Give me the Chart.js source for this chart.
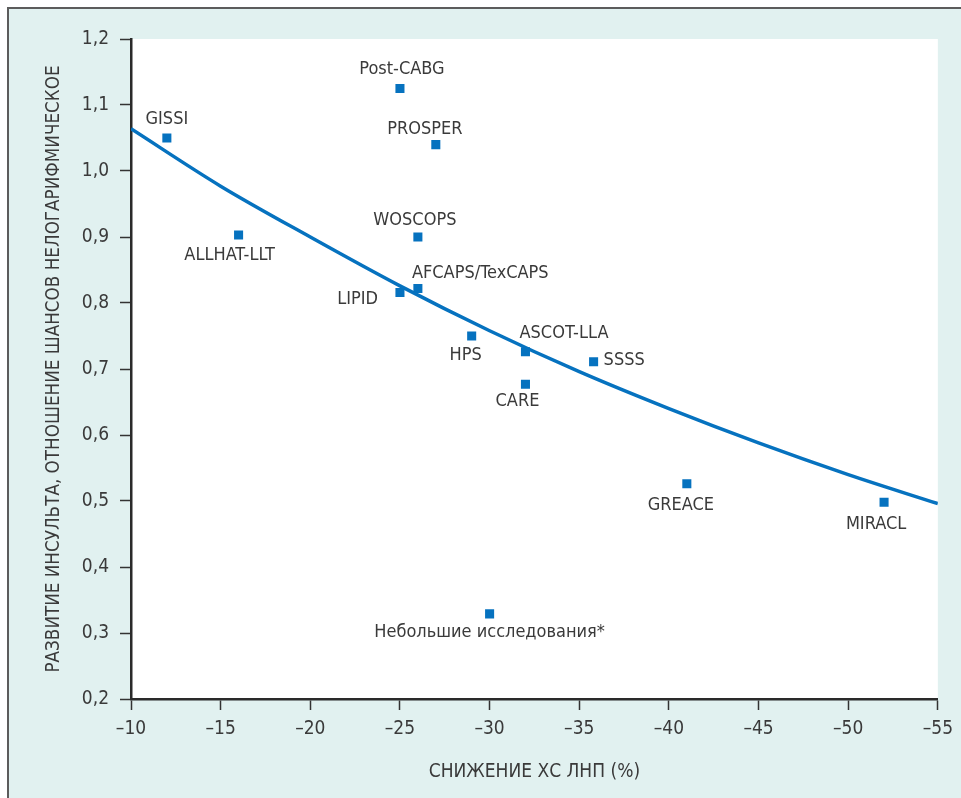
<!DOCTYPE html>
<html>
<head>
<meta charset="utf-8">
<script src="https://cdn.jsdelivr.net/npm/chart.js@4.4.1/dist/chart.umd.min.js"></script>
<style>
  html, body { margin: 0; padding: 0; background: #fff; }
  canvas { display: block; }
</style>
</head>
<body>
<canvas id="strokeChart" width="961" height="798"></canvas>
<script>
'use strict';

// ── Data ────────────────────────────────────────────────────
const STUDIES   = ['GISSI', 'Post-CABG', 'PROSPER', 'WOSCOPS', 'ALLHAT-LLT', 'AFCAPS/TexCAPS', 'LIPID',
                   'HPS', 'ASCOT-LLA', 'SSSS', 'CARE', 'GREACE', 'MIRACL', 'Небольшие исследования*'];
const LDL_DROP  = [-12, -25, -27, -26, -16, -26, -25, -29, -32, -35.8, -32, -41, -52, -30];
const STROKE_OR = [1.05, 1.125, 1.04, 0.90, 0.903, 0.822, 0.816, 0.75, 0.726, 0.711, 0.677, 0.526, 0.498, 0.329];

const CURVE_X = [-10, -15, -20, -25, -30, -35, -40, -45, -50, -55];
const CURVE_Y = [1.064, 0.977, 0.90, 0.826, 0.758, 0.696, 0.640, 0.588, 0.540, 0.496];

const X_TICKS = [-10, -15, -20, -25, -30, -35, -40, -45, -50, -55];
const Y_TICKS = [0.2, 0.3, 0.4, 0.5, 0.6, 0.7, 0.8, 0.9, 1.0, 1.1, 1.2];

// label placement next to each square: [dx, dy, align]
const LABEL_POS = [
    [0, -19, 'center'], [2, -19, 'center'], [-11, -15, 'center'], [-3, -17, 'center'],
    [-9, 20, 'center'], [-6, -15, 'left'], [-22, 7, 'right'], [-6, 19, 'center'],
    [-6, -19, 'left'], [10, -1, 'left'], [-8, 17, 'center'], [-6, 21, 'center'],
    [-8, 22, 'center'], [0, 18, 'center']
];

const BLUE = '#0672bf';
const INK = '#3a3a3a';
const TEAL = '#e1f1f0';
const FONT = "'Liberation Sans Narrow', 'DejaVu Sans Condensed', 'Roboto Condensed', sans-serif";

const backdrop = {
    id: 'backdrop',
    beforeDraw(chart) {
        const { ctx, width, height, chartArea: a } = chart;
        ctx.save();
        ctx.fillStyle = '#fff';
        ctx.fillRect(0, 0, width, height);
        ctx.fillStyle = TEAL;
        ctx.fillRect(8, 8, width - 8, height - 8);
        ctx.strokeStyle = '#5c5c5c';
        ctx.lineWidth = 2;
        ctx.beginPath();
        ctx.moveTo(8, height); ctx.lineTo(8, 8); ctx.lineTo(width, 8);
        ctx.stroke();
        ctx.fillStyle = '#fff';
        ctx.fillRect(a.left, a.top, a.right - a.left, a.bottom - a.top);
        ctx.restore();
    }
};

const studyLabels = {
    id: 'studyLabels',
    afterDatasetsDraw(chart) {
        const { ctx } = chart;
        const meta = chart.getDatasetMeta(1);
        ctx.save();
        ctx.font = '18px ' + FONT;
        ctx.fillStyle = INK;
        ctx.textBaseline = 'middle';
        meta.data.forEach((pt, i) => {
            const [dx, dy, align] = LABEL_POS[i];
            ctx.textAlign = align;
            ctx.fillText(STUDIES[i], pt.x + dx, pt.y + dy);
        });
        ctx.restore();
    }
};

const axisLook = {
    grid: { drawOnChartArea: false, drawTicks: true, tickLength: 11, tickColor: '#333', tickWidth: 1.5 },
    border: { display: true, color: '#2a2a2a', width: 2.5 },
};

new Chart(document.getElementById('strokeChart'), {
    data: {
        datasets: [{
            type: 'line',
            data: CURVE_X.map((x, i) => ({ x, y: CURVE_Y[i] })),
            borderColor: BLUE,
            borderWidth: 3.5,
            pointRadius: 0,
            cubicInterpolationMode: 'monotone',
            fill: false,
            order: 2
        }, {
            type: 'scatter',
            data: LDL_DROP.map((x, i) => ({ x, y: STROKE_OR[i] })),
            pointStyle: 'rect',
            pointRadius: 6.4,
            backgroundColor: BLUE,
            borderWidth: 0,
            order: 1
        }]
    },
    options: {
        responsive: false,
        animation: false,
        layout: { padding: { top: 39, right: 22, bottom: 0, left: 0 } },
        plugins: { legend: { display: false }, tooltip: { enabled: false } },
        scales: {
            x: {
                type: 'linear', reverse: true, min: -55, max: -10,
                ...axisLook,
                afterBuildTicks: s => { s.ticks = X_TICKS.map(v => ({ value: v })); },
                afterFit: s => { s.height = 99; },
                ticks: {
                    color: INK, padding: 8, font: { family: FONT, size: 19 },
                    callback: v => '–' + Math.abs(v)
                },
                title: {
                    display: true, text: 'СНИЖЕНИЕ ХС ЛНП (%)', color: INK,
                    font: { family: FONT, size: 19, lineHeight: 1 }, padding: { top: 0, bottom: 16 }
                }
            },
            y: {
                type: 'linear', min: 0.2, max: 1.2,
                ...axisLook,
                afterBuildTicks: s => { s.ticks = Y_TICKS.map(v => ({ value: v })); },
                afterFit: s => { s.width = 131; },
                ticks: {
                    color: INK, padding: 11, font: { family: FONT, size: 19 },
                    callback: v => v.toFixed(1).replace('.', ',')
                },
                title: {
                    display: true, text: 'РАЗВИТИЕ ИНСУЛЬТА, ОТНОШЕНИЕ ШАНСОВ НЕЛОГАРИФМИЧЕСКОЕ', color: INK,
                    font: { family: FONT, size: 18.7, lineHeight: 1 }, padding: { top: 45, bottom: 0 }
                }
            }
        }
    },
    plugins: [backdrop, studyLabels]
});
</script>
</body>
</html>
